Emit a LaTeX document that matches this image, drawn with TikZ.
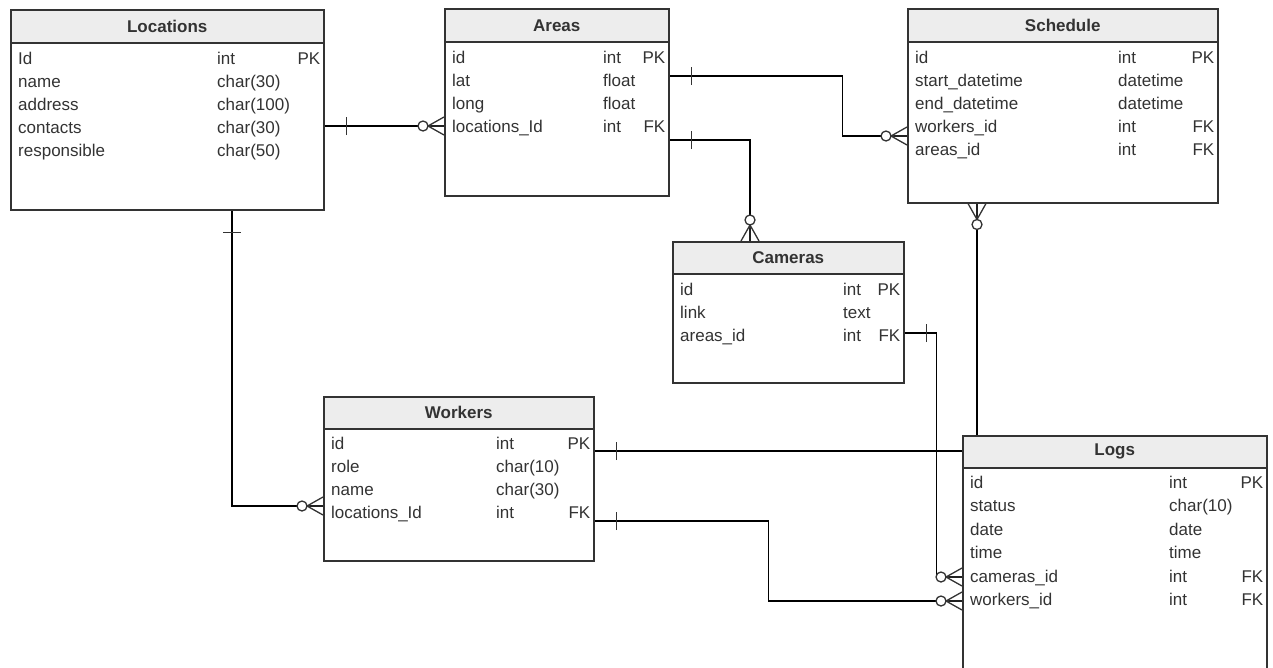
\documentclass[tikz,border=0pt]{standalone}
\usepackage{fontspec}
\setmainfont{Liberation Sans}
\usetikzlibrary{calc,backgrounds}

\begin{document}
\begin{tikzpicture}[x=1pt, y=-1pt, color=black!80,
    font=\fontsize{17}{20}\selectfont,
    tbl/.style={draw, fill=white, rectangle, anchor=north west, inner sep=0pt, line width=1.5pt},
    hdr/.style={draw, fill=black!7, rectangle, anchor=north west, inner sep=0pt,
                minimum height=33pt, line width=1.5pt, font=\fontsize{17}{20}\selectfont\bfseries},
    fld/.style={anchor=base west, inner sep=0pt},
    key/.style={anchor=base east, inner sep=0pt},
    rel/.style={line width=1.3pt},
    one/.pic={\draw[rel] (-22,-9) -- (-22,9);},
    many/.pic={\draw[rel] (-16,0) -- (0,-9) (-16,0) -- (0,0) (-16,0) -- (0,9);
               \draw[rel, fill=white] (-21,0) circle[radius=5];}]
    \useasboundingbox (0,0) rectangle (1273,667);

    % Locations
    \node[tbl, minimum width=313pt, minimum height=200pt] (loc) at (10,9) {};
    \node[hdr, minimum width=313pt] (loc-h) at (loc.north west) {Locations};
    \foreach \i/\n/\t/\k in {0/Id/int/PK, 1/name/char(30)/, 2/address/char(100)/,
                             3/contacts/char(30)/, 4/responsible/char(50)/} {
        \node[fld] (loc-n\i) at ($(loc.north west)+(8,{55+23*\i})$) {\n};
        \node[fld] (loc-t\i) at ($(loc.north west)+(207,{55+23*\i})$) {\t};
        \node[key] (loc-k\i) at ($(loc.north east)+(-4,{55+23*\i})$) {\k};
    }

    % Areas
    \node[tbl, minimum width=224pt, minimum height=187pt] (area) at (444,8) {};
    \node[hdr, minimum width=224pt] (area-h) at (area.north west) {Areas};
    \foreach \i/\n/\t/\k in {0/id/int/PK, 1/lat/float/, 2/long/float/, 3/locations\_Id/int/FK} {
        \node[fld] (area-n\i) at ($(area.north west)+(8,{55+23*\i})$) {\n};
        \node[fld] (area-t\i) at ($(area.north west)+(159,{55+23*\i})$) {\t};
        \node[key] (area-k\i) at ($(area.north east)+(-4,{55+23*\i})$) {\k};
    }

    % Schedule
    \node[tbl, minimum width=310pt, minimum height=194pt] (sch) at (907,8) {};
    \node[hdr, minimum width=310pt] (sch-h) at (sch.north west) {Schedule};
    \foreach \i/\n/\t/\k in {0/id/int/PK, 1/start\_datetime/datetime/, 2/end\_datetime/datetime/,
                             3/workers\_id/int/FK, 4/areas\_id/int/FK} {
        \node[fld] (sch-n\i) at ($(sch.north west)+(8,{55+23*\i})$) {\n};
        \node[fld] (sch-t\i) at ($(sch.north west)+(211,{55+23*\i})$) {\t};
        \node[key] (sch-k\i) at ($(sch.north east)+(-4,{55+23*\i})$) {\k};
    }

    % Cameras
    \node[tbl, minimum width=231pt, minimum height=141pt] (cam) at (672,241) {};
    \node[hdr, minimum width=231pt, minimum height=32pt] (cam-h) at (cam.north west) {Cameras};
    \foreach \i/\n/\t/\k in {0/id/int/PK, 1/link/text/, 2/areas\_id/int/FK} {
        \node[fld] (cam-n\i) at ($(cam.north west)+(8,{54+23*\i})$) {\n};
        \node[fld] (cam-t\i) at ($(cam.north west)+(171,{54+23*\i})$) {\t};
        \node[key] (cam-k\i) at ($(cam.north east)+(-4,{54+23*\i})$) {\k};
    }

    % Workers
    \node[tbl, minimum width=270pt, minimum height=164pt] (wrk) at (323,396) {};
    \node[hdr, minimum width=270pt, minimum height=32pt] (wrk-h) at (wrk.north west) {Workers};
    \foreach \i/\n/\t/\k in {0/id/int/PK, 1/role/char(10)/, 2/name/char(30)/, 3/locations\_Id/int/FK} {
        \node[fld] (wrk-n\i) at ($(wrk.north west)+(8,{53+23*\i})$) {\n};
        \node[fld] (wrk-t\i) at ($(wrk.north west)+(173,{53+23*\i})$) {\t};
        \node[key] (wrk-k\i) at ($(wrk.north east)+(-4,{53+23*\i})$) {\k};
    }

    % Logs
    \node[tbl, minimum width=304pt, minimum height=240pt] (logs) at (962,435) {};
    \node[hdr, minimum width=304pt, minimum height=32pt] (logs-h) at (logs.north west) {Logs};
    \foreach \i/\n/\t/\k in {0/id/int/PK, 1/status/char(10)/, 2/date/date/, 3/time/time/,
                             4/cameras\_id/int/FK, 5/workers\_id/int/FK} {
        \node[fld] (logs-n\i) at ($(logs.north west)+(8,{53+23.5*\i})$) {\n};
        \node[fld] (logs-t\i) at ($(logs.north west)+(207,{53+23.5*\i})$) {\t};
        \node[key] (logs-k\i) at ($(logs.north east)+(-4,{53+23.5*\i})$) {\k};
    }

    % relations
    \path ($(area.north west)+(0,118)$) coordinate (la-m) (la-m -| loc.east) coordinate (la-o)
          ($(loc.south west)+(222,0)$) coordinate (lw-o) ($(wrk.north west)+(0,110)$) coordinate (lw-m)
          ($(area.north east)+(0,68)$) coordinate (as-o) ($(sch.north west)+(0,128)$) coordinate (as-m)
          ($(area.north east)+(0,132)$) coordinate (ac-o) ($(cam.north west)+(78,0)$) coordinate (ac-m)
          ($(cam.north east)+(0,92)$) coordinate (cl-o) ($(logs.north west)+(0,142)$) coordinate (cl-m)
          ($(wrk.north east)+(0,55)$) coordinate (ws-o) ($(sch.south west)+(70,0)$) coordinate (ws-m)
          ($(wrk.north east)+(0,125)$) coordinate (wl-o) ($(logs.north west)+(0,166)$) coordinate (wl-m);
    \begin{scope}[on background layer]
        \draw[rel] (la-o) -- (la-m);
        \draw[rel] (lw-o) |- (lw-m);
        \draw[rel] (as-o) -- ++(173,0) |- (as-m);
        \draw[rel] (ac-o) -| (ac-m);
        \draw[rel] (cl-o) -- ++(32,0) |- (cl-m);
        \draw[rel] (ws-o) -| (ws-m);
        \draw[rel] (wl-o) -- ++(174,0) |- (wl-m);
    \end{scope}
    \foreach \p/\r in {la-o/180, lw-o/90, as-o/180, ac-o/180, cl-o/180, ws-o/180, wl-o/180}
        \path (\p) pic[rotate=\r] {one};
    \foreach \p/\r in {la-m/0, lw-m/0, as-m/0, ac-m/-90, cl-m/0, ws-m/90, wl-m/0}
        \path (\p) pic[rotate=\r] {many};
\end{tikzpicture}
\end{document}
